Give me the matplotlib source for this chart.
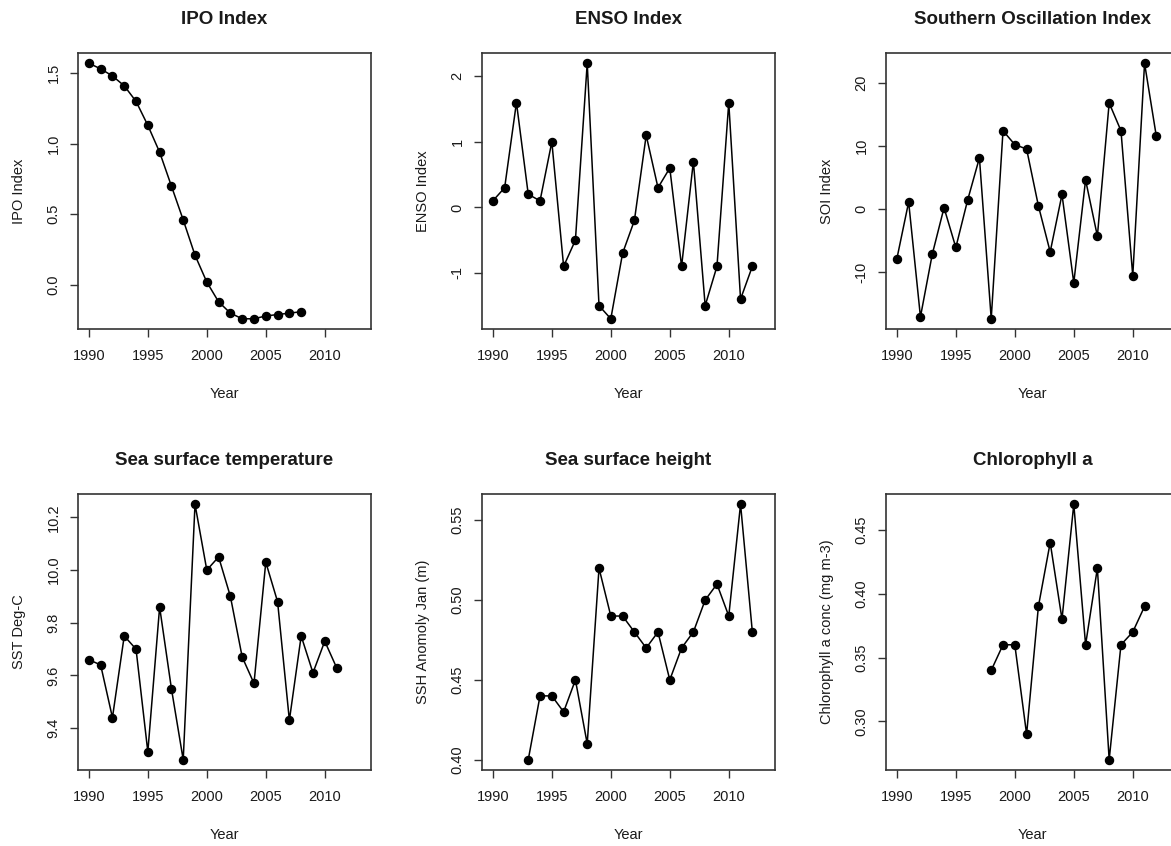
import matplotlib
matplotlib.use("Agg")
import matplotlib.pyplot as plt
import numpy as np

plt.rcParams['font.family'] = ['Liberation Sans', 'DejaVu Sans']

# ---- data ----
ipo_years = list(range(1990, 2009))
ipo_vals = [1.57, 1.53, 1.48, 1.41, 1.30, 1.13, 0.94, 0.70, 0.46, 0.21, 0.02,
            -0.12, -0.20, -0.24, -0.24, -0.22, -0.21, -0.20, -0.19]

enso_years = list(range(1990, 2013))
enso_vals = [0.1, 0.3, 1.6, 0.2, 0.1, 1.0, -0.9, -0.5, 2.2, -1.5, -1.7, -0.7,
             -0.2, 1.1, 0.3, 0.6, -0.9, 0.7, -1.5, -0.9, 1.6, -1.4, -0.9]

soi_years = list(range(1990, 2013))
soi_vals = [-7.9, 1.1, -17.1, -7.2, 0.2, -6.1, 1.4, 8.1, -17.4, 12.4, 10.2, 9.5,
            0.5, -6.8, 2.3, -11.7, 4.6, -4.3, 16.8, 12.4, -10.6, 23.1, 11.5]

sst_years = list(range(1990, 2012))
sst_vals = [9.66, 9.64, 9.44, 9.75, 9.70, 9.31, 9.86, 9.55, 9.28, 10.25, 10.00,
            10.05, 9.90, 9.67, 9.57, 10.03, 9.88, 9.43, 9.75, 9.61, 9.73, 9.63]

ssh_years = list(range(1993, 2013))
ssh_vals = [0.40, 0.44, 0.44, 0.43, 0.45, 0.41, 0.52, 0.49, 0.49, 0.48, 0.47,
            0.48, 0.45, 0.47, 0.48, 0.50, 0.51, 0.49, 0.56, 0.48]

chl_years = list(range(1998, 2012))
chl_vals = [0.34, 0.36, 0.36, 0.29, 0.39, 0.44, 0.38, 0.47, 0.36, 0.42, 0.27,
            0.36, 0.37, 0.39]

titles = ["IPO Index", "ENSO Index", "Southern Oscillation Index",
          "Sea surface temperature", "Sea surface height", "Chlorophyll a"]
ylabels = ["IPO Index", "ENSO Index", "SOI Index", "SST Deg-C",
           "SSH Anomoly Jan (m)", "Chlorophyll a conc (mg m-3)"]
yticks = [[0.0, 0.5, 1.0, 1.5], [-1, 0, 1, 2], [-10, 0, 10, 20],
          [9.4, 9.6, 9.8, 10.0, 10.2], [0.40, 0.45, 0.50, 0.55],
          [0.30, 0.35, 0.40, 0.45]]
yticklabels = [["0.0", "0.5", "1.0", "1.5"], ["-1", "0", "1", "2"],
               ["-10", "0", "10", "20"], ["9.4", "9.6", "9.8", "10.0", "10.2"],
               ["0.40", "0.45", "0.50", "0.55"], ["0.30", "0.35", "0.40", "0.45"]]
xticks = [1990, 1995, 2000, 2005, 2010]
xlim_years = (1990, 2013)

series = [(ipo_years, ipo_vals), (enso_years, enso_vals), (soi_years, soi_vals),
          (sst_years, sst_vals), (ssh_years, ssh_vals), (chl_years, chl_vals)]

W, H = 1171, 846
fig = plt.figure(figsize=(W / 100, H / 100), dpi=100)

col_left = [78, 482, 886]
col_w = 293
row_top = [53, 494]
row_h = 276

txt = '#1a1a1a'
for i, ((xs, ys), title, ylab, yt, ytl) in enumerate(
        zip(series, titles, ylabels, yticks, yticklabels)):
    r, c = divmod(i, 3)
    left = col_left[c]
    top = row_top[r]
    ax = fig.add_axes([left / W, (H - top - row_h) / H, col_w / W, row_h / H])
    ax.plot(xs, ys, color='black', lw=1.1, marker='o', ms=5.8,
            mfc='black', mec='black')
    x0, x1 = xlim_years
    pad = 0.04 * (x1 - x0)
    ax.set_xlim(x0 - pad, x1 + pad)
    ymin, ymax = min(ys), max(ys)
    ypad = 0.04 * (ymax - ymin)
    ax.set_ylim(ymin - ypad, ymax + ypad)
    ax.set_xticks(xticks)
    ax.set_xticklabels([str(v) for v in xticks])
    ax.set_yticks(yt)
    ax.set_yticklabels(ytl, rotation=90, va='center')
    ax.tick_params(axis='both', direction='out', length=5.5, width=1.0,
                   color='#333333', labelsize=10.5, labelcolor=txt)
    ax.tick_params(axis='x', pad=9)
    ax.tick_params(axis='y', pad=7)
    for sp in ax.spines.values():
        sp.set_color('#333333')
        sp.set_linewidth(1.2)
    ax.set_xlabel("Year", fontsize=10.5, color=txt)
    ax.xaxis.set_label_coords(0.5, -65 / row_h)
    ax.xaxis.label.set_va('center')
    ax.set_ylabel(ylab, fontsize=10.5, color=txt)
    ax.yaxis.set_label_coords(-59 / col_w, 0.5)
    ax.yaxis.label.set_va('center')
    ax.text(0.5, 1 + 33 / row_h, title, transform=ax.transAxes,
            ha='center', va='center', fontsize=13.5, fontweight='bold',
            color=txt)

fig.savefig("out.png", dpi=100)
